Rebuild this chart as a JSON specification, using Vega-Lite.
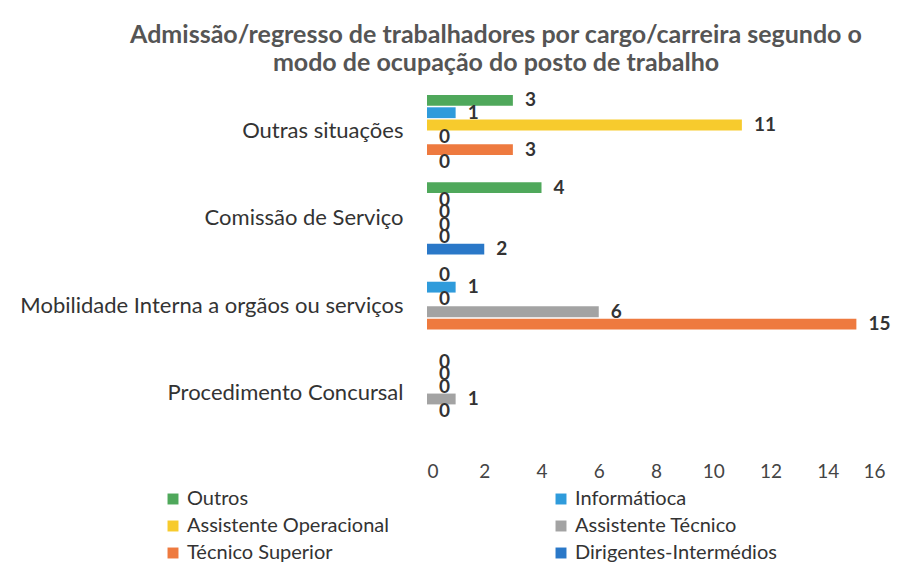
{
  "$schema": "https://vega.github.io/schema/vega-lite/v6.json",
  "width": 458,
  "height": 348,
  "autosize": {"type": "none"},
  "padding": {"left": 427, "top": 88, "right": 23, "bottom": 141},
  "background": "white",
  "title": {
    "text": ["Admissão/regresso de trabalhadores por cargo/carreira segundo o", "modo de ocupação do posto de trabalho"],
    "anchor": "middle",
    "frame": "group",
    "dx": -160,
    "fontSize": 25,
    "font": "Lato",
    "fontWeight": "bold",
    "color": "#555555",
    "offset": 12,
    "lineHeight": 28
  },
  "config": {"view": {"stroke": null}, "font": "Lato"},
  "data": {
    "values": [
      {"modo": "Outras situações", "cargo": "Outros", "valor": 3},
      {"modo": "Outras situações", "cargo": "Informátioca", "valor": 1},
      {"modo": "Outras situações", "cargo": "Assistente Operacional", "valor": 11},
      {"modo": "Outras situações", "cargo": "Assistente Técnico", "valor": 0},
      {"modo": "Outras situações", "cargo": "Técnico Superior", "valor": 3},
      {"modo": "Outras situações", "cargo": "Dirigentes-Intermédios", "valor": 0},
      {"modo": "Comissão de Serviço", "cargo": "Outros", "valor": 4},
      {"modo": "Comissão de Serviço", "cargo": "Informátioca", "valor": 0},
      {"modo": "Comissão de Serviço", "cargo": "Assistente Operacional", "valor": 0},
      {"modo": "Comissão de Serviço", "cargo": "Assistente Técnico", "valor": 0},
      {"modo": "Comissão de Serviço", "cargo": "Técnico Superior", "valor": 0},
      {"modo": "Comissão de Serviço", "cargo": "Dirigentes-Intermédios", "valor": 2},
      {"modo": "Mobilidade Interna a orgãos ou serviços", "cargo": "Outros", "valor": 0},
      {"modo": "Mobilidade Interna a orgãos ou serviços", "cargo": "Informátioca", "valor": 1},
      {"modo": "Mobilidade Interna a orgãos ou serviços", "cargo": "Assistente Operacional", "valor": 0},
      {"modo": "Mobilidade Interna a orgãos ou serviços", "cargo": "Assistente Técnico", "valor": 6},
      {"modo": "Mobilidade Interna a orgãos ou serviços", "cargo": "Técnico Superior", "valor": 15},
      {"modo": "Procedimento Concursal", "cargo": "Outros", "valor": 0},
      {"modo": "Procedimento Concursal", "cargo": "Informátioca", "valor": 0},
      {"modo": "Procedimento Concursal", "cargo": "Assistente Operacional", "valor": 0},
      {"modo": "Procedimento Concursal", "cargo": "Assistente Técnico", "valor": 1},
      {"modo": "Procedimento Concursal", "cargo": "Técnico Superior", "valor": 0}
    ]
  },
  "encoding": {
    "y": {
      "field": "modo",
      "type": "nominal",
      "sort": ["Outras situações", "Comissão de Serviço", "Mobilidade Interna a orgãos ou serviços", "Procedimento Concursal"],
      "scale": {"paddingInner": 0.17, "paddingOuter": 0.08},
      "axis": {"title": null, "domain": false, "ticks": false, "labelFontSize": 22, "labelColor": "#333333", "labelPadding": 24, "labelFont": "Lato", "labelLimit": 500}
    },
    "yOffset": {
      "field": "cargo",
      "type": "nominal",
      "sort": ["Outros", "Informátioca", "Assistente Operacional", "Assistente Técnico", "Técnico Superior", "Dirigentes-Intermédios"],
      "scale": {"paddingInner": 0.12}
    },
    "x": {
      "field": "valor",
      "type": "quantitative",
      "scale": {"domain": [0, 16]},
      "axis": {"title": null, "domain": false, "ticks": false, "grid": false, "values": [0, 2, 4, 6, 8, 10, 12, 14, 16], "labelOverlap": false, "labelFontSize": 19, "labelColor": "#444444", "offset": 24, "labelPadding": 2}
    }
  },
  "layer": [
    {
      "mark": {"type": "bar"},
      "encoding": {
        "color": {
          "field": "cargo",
          "type": "nominal",
          "scale": {
            "domain": ["Outros", "Informátioca", "Assistente Operacional", "Assistente Técnico", "Técnico Superior", "Dirigentes-Intermédios"],
            "range": ["#4FA85B", "#2F9BDB", "#F7CB2D", "#A3A3A3", "#EE7A3F", "#2A78C8"]
          },
          "legend": {
            "title": null,
            "orient": "none",
            "direction": "horizontal",
            "legendX": -264,
            "legendY": 401,
            "columns": 2,
            "columnPadding": 162,
            "rowPadding": 7,
            "labelFontSize": 20,
            "labelLimit": 400,
            "labelColor": "#333333",
            "symbolType": "square",
            "symbolSize": 120,
            "symbolStrokeWidth": 0
          }
        }
      }
    },
    {
      "mark": {"type": "text", "align": "left", "baseline": "middle", "dx": 12, "fontWeight": "bold", "fontSize": 19, "color": "#333333"},
      "encoding": {"text": {"field": "valor", "type": "quantitative"}}
    }
  ]
}
